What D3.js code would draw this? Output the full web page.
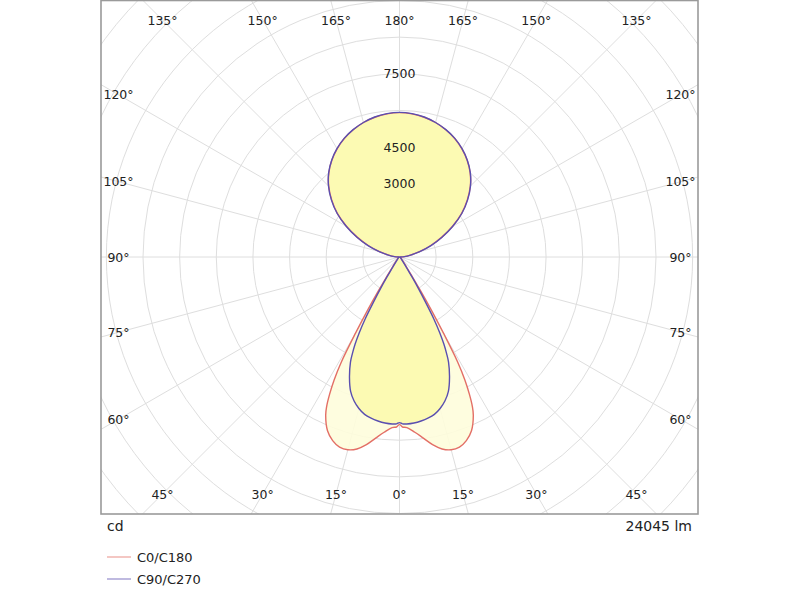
<!DOCTYPE html>
<html lang="en">
<head>
<meta charset="UTF-8">
<title>Polar intensity diagram</title>
<script src="https://cdn.jsdelivr.net/npm/d3@7"></script>
<style>
  body { margin: 0; background: #fff; }
  text { font-family: "DejaVu Sans", sans-serif; fill: #222; }
</style>
</head>
<body>
<svg id="chart" width="800" height="600"></svg>
<script>
// gamma angles (0 = straight down, 180 = straight up)
var gammas = [0, 1, 2.5, 5, 7.5, 10, 12.5, 15, 17.5, 20, 22.5, 25, 26, 27, 28, 29, 30, 31, 32, 33, 35, 40, 45, 50, 60, 70, 80,
              90, 95, 100, 105, 110, 115, 120, 125, 130, 135, 140, 145, 150, 155, 160, 165, 170, 175, 180];
// candela values, C0/C180 plane
var c0 = [6850, 6960, 6990, 7200, 7480, 7800, 8050, 8170, 8160, 8000, 7700, 7150, 6800, 6300, 5700, 4900, 3600, 2500, 1600, 1000, 500, 200, 120, 80, 40, 20, 10,
          0, 200, 450, 850, 1350, 1900, 2500, 3100, 3620, 4100, 4500, 4830, 5110, 5350, 5540, 5700, 5810, 5880, 5910];
// candela values, C90/C270 plane
var c90 = [6780, 6830, 6840, 6820, 6770, 6700, 6600, 6420, 6180, 5850, 5350, 4750, 4400, 4000, 3500, 2900, 2100, 1500, 1000, 650, 320, 150, 90, 60, 30, 15, 5,
           0, 200, 460, 860, 1370, 1920, 2520, 3120, 3640, 4110, 4510, 4840, 5120, 5360, 5550, 5700, 5820, 5890, 5920];

var seriesNames = ["C0/C180", "C90/C270"];
var ringValues = [1500, 3000, 4500, 6000, 7500, 9000, 10500, 12000, 13500, 15000, 16500];
var ringLabels = [3000, 4500, 7500];
var angleTicks = [0, 15, 30, 45, 60, 75, 90, 105, 120, 135, 150, 165, 180];
var unitLabel = "cd";
var fluxLabel = "24045 lm";

var svg = d3.select("#chart");
var boxL = 101, boxT = 0, boxR = 698, boxB = 514;
var cx = (boxL + boxR) / 2, cy = (boxT + boxB) / 2;

var r = d3.scaleLinear().domain([0, 10500]).range([0, 256.5]);

var colors = ["#e36f66", "#5a4fb0"];
var fills = ["#fefddc", "#fcf9ae"];

svg.append("defs").append("clipPath").attr("id", "box")
  .append("rect").attr("x", boxL).attr("y", boxT).attr("width", boxR - boxL).attr("height", boxB - boxT);

var g = svg.append("g").attr("clip-path", "url(#box)");
var grid = g.append("g").attr("transform", "translate(" + cx + "," + cy + ")");

// rings
grid.selectAll("circle").data(ringValues).enter().append("circle")
  .attr("r", function (d) { return r(d); })
  .attr("fill", "none").attr("stroke", "#dedede").attr("stroke-width", 1);

// radial lines every 15 deg
grid.selectAll("line").data(d3.range(0, 360, 15)).enter().append("line")
  .attr("x1", 0).attr("y1", 0)
  .attr("x2", function (d) { return 600 * Math.sin(d * Math.PI / 180); })
  .attr("y2", function (d) { return 600 * Math.cos(d * Math.PI / 180); })
  .attr("stroke", "#dedede").attr("stroke-width", 1);

// closed outline: right half gamma 0..180, left half back down
function outline(vals) {
  var pts = [];
  gammas.forEach(function (gm, i) { pts.push({ a: Math.PI - gm * Math.PI / 180, v: vals[i] }); });
  for (var i = gammas.length - 2; i > 0; i--) {
    pts.push({ a: Math.PI + gammas[i] * Math.PI / 180, v: vals[i] });
  }
  return pts;
}

var line = d3.lineRadial()
  .angle(function (d) { return d.a; })
  .radius(function (d) { return r(d.v); })
  .curve(d3.curveCatmullRomClosed.alpha(0.5));

var curves = g.append("g").attr("transform", "translate(" + cx + "," + cy + ")");
var data = [outline(c0), outline(c90)];

curves.selectAll("path.fill").data(data).enter().append("path")
  .attr("class", "fill")
  .attr("d", line)
  .attr("fill", function (d, i) { return fills[i]; })
  .attr("fill-opacity", 0.9)
  .attr("stroke", "none");

curves.selectAll("path.edge").data(data).enter().append("path")
  .attr("class", "edge")
  .attr("d", line)
  .attr("fill", "none")
  .attr("stroke", function (d, i) { return colors[i]; })
  .attr("stroke-width", 1.4);

// ring labels
g.selectAll("text.ring").data(ringLabels).enter().append("text")
  .attr("class", "ring")
  .attr("x", cx)
  .attr("y", function (d) { return cy - r(d); })
  .attr("text-anchor", "middle")
  .attr("dominant-baseline", "central")
  .attr("font-size", 12.5)
  .text(function (d) { return d; });

// angle labels placed on an inner rectangle
var halfW = 281, halfH = 237;
var angleLabels = [];
angleTicks.forEach(function (a) {
  var sides = (a === 0 || a === 180) ? [1] : [-1, 1];
  sides.forEach(function (s) {
    var dx = Math.sin(a * Math.PI / 180), dy = Math.cos(a * Math.PI / 180);
    var tx = Math.abs(dx) > 1e-6 ? halfW / Math.abs(dx) : Infinity;
    var ty = Math.abs(dy) > 1e-6 ? halfH / Math.abs(dy) : Infinity;
    var t = Math.min(tx, ty);
    angleLabels.push({ a: a, x: cx + s * dx * t, y: cy + dy * t });
  });
});

svg.selectAll("text.ang").data(angleLabels).enter().append("text")
  .attr("class", "ang")
  .attr("x", function (d) { return d.x; })
  .attr("y", function (d) { return d.y; })
  .attr("text-anchor", "middle")
  .attr("dominant-baseline", "central")
  .attr("font-size", 12.5)
  .text(function (d) { return d.a + "°"; });

// frame
svg.append("rect")
  .attr("x", boxL).attr("y", boxT + 0.5).attr("width", boxR - boxL).attr("height", boxB - boxT - 0.5)
  .attr("fill", "none").attr("stroke", "#9a9a9a").attr("stroke-width", 1.6);

svg.append("text").attr("x", 107).attr("y", 531).attr("font-size", 14).text(unitLabel);
svg.append("text").attr("x", 692).attr("y", 531).attr("font-size", 14)
  .attr("text-anchor", "end").text(fluxLabel);

// legend
var legend = svg.selectAll("g.leg").data(seriesNames).enter().append("g")
  .attr("class", "leg")
  .attr("transform", function (d, i) { return "translate(107," + (557 + 22 * i) + ")"; });
legend.append("line").attr("x1", 0).attr("x2", 24).attr("y1", 0).attr("y2", 0)
  .attr("stroke", function (d, i) { return colors[i]; })
  .attr("stroke-opacity", 0.6).attr("stroke-width", 1.3);
legend.append("text").attr("x", 30).attr("y", 0)
  .attr("dominant-baseline", "central").attr("font-size", 13)
  .text(function (d) { return d; });
</script>
</body>
</html>
